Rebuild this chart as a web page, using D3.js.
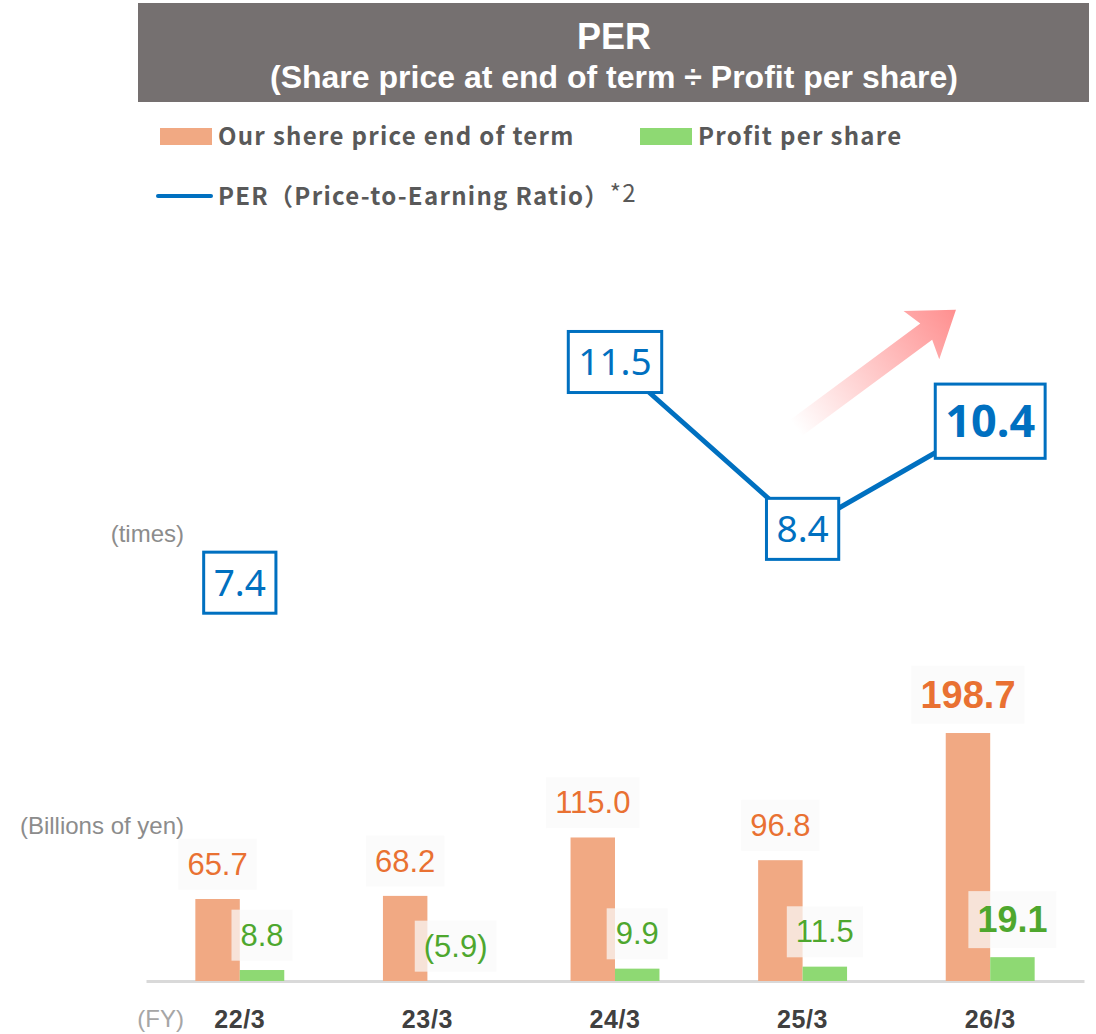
<!DOCTYPE html>
<html>
<head>
<meta charset="utf-8">
<script src="https://cdn.jsdelivr.net/npm/d3@7"></script>
<style>
  body { margin: 0; background: #fff; }
  svg { display: block; }
</style>
</head>
<body>
<div id="chart"></div>
<script>
// data
var categories = ['22/3', '23/3', '24/3', '25/3', '26/3']
var sharePrice = [65.7, 68.2, 115.0, 96.8, 198.7]
var profitPerShare = [8.8, -5.9, 9.9, 11.5, 19.1]
var perValues = [7.4, null, 11.5, 8.4, 10.4]
var legendLabels = ['Our shere price end of term', 'Profit per share', 'PER（Price-to-Earning Ratio）']

var W = 1096, H = 1034
var orange = '#F1A983', green = '#8ED973', blue = '#0070C0'
var orangeText = '#E97132', greenText = '#4EA72E'
var lastIdx = categories.length - 1

var svg = d3.select('#chart').append('svg')
  .attr('width', W).attr('height', H)

/* title */
svg.append('rect')
  .attr('x', 138).attr('y', 3).attr('width', 951).attr('height', 99)
  .attr('fill', '#757070')
svg.append('text')
  .attr('x', 614).attr('y', 49)
  .attr('text-anchor', 'middle')
  .style('font', 'bold 36px "Liberation Sans", Arial, sans-serif')
  .attr('fill', '#fff')
  .text('PER')
svg.append('text')
  .attr('x', 614).attr('y', 88)
  .attr('text-anchor', 'middle')
  .style('font', 'bold 32px "Liberation Sans", Arial, sans-serif')
  .attr('fill', '#fff')
  .text('(Share price at end of term ÷ Profit per share)')

/* legend */
var legendFont = 'bold 24px "Noto Sans CJK JP", "Noto Sans", sans-serif'
var lg = svg.append('g').style('letter-spacing', '1.3px')
lg.append('rect').attr('x', 160).attr('y', 128).attr('width', 52).attr('height', 17).attr('fill', orange)
lg.append('text').attr('x', 218).attr('y', 145).style('font', legendFont).attr('fill', '#595959').text(legendLabels[0])
lg.append('rect').attr('x', 640).attr('y', 128).attr('width', 52).attr('height', 17).attr('fill', green)
lg.append('text').attr('x', 698).attr('y', 145).style('font', legendFont).attr('fill', '#595959').text(legendLabels[1])
lg.append('line').attr('x1', 158).attr('x2', 211).attr('y1', 196).attr('y2', 196)
  .attr('stroke', blue).attr('stroke-width', 4).attr('stroke-linecap', 'round')
var lt = lg.append('text').attr('x', 218).attr('y', 205).style('font', legendFont).attr('fill', '#595959')
lt.append('tspan').text(legendLabels[2])
lt.append('tspan').attr('font-weight', 400).attr('dy', -3).text('*2')

/* scales */
var x = d3.scaleBand().domain(categories).range([146, 1084]).padding(0)
var barW = x.bandwidth() * 0.237
var yBar = d3.scaleLinear().domain([0, 200]).range([981, 731.4])
var yPer = d3.scaleLinear().domain([0, 11.5]).range([981, 362])
var cx = function(c) { return x(c) + x.bandwidth() / 2 }

/* axis */
var axis = svg.append('g')
  .attr('transform', 'translate(0,981)')
  .call(d3.axisBottom(x).tickSize(0).tickPadding(29))
axis.select('.domain').attr('stroke', '#d9d9d9').attr('stroke-width', 3)
axis.selectAll('.tick text')
  .style('font', 'bold 25px "Liberation Sans", Arial, sans-serif')
  .style('letter-spacing', '0.6px')
  .attr('fill', '#404040')

svg.append('text').attr('x', 184).attr('y', 1027).attr('text-anchor', 'end')
  .style('font', '24px "Liberation Sans", Arial, sans-serif').attr('fill', '#a6a6a6').text('(FY)')
svg.append('text').attr('x', 184).attr('y', 834).attr('text-anchor', 'end')
  .style('font', '24px "Liberation Sans", Arial, sans-serif').attr('fill', '#8c8c8c').text('(Billions of yen)')
svg.append('text').attr('x', 184).attr('y', 542).attr('text-anchor', 'end')
  .style('font', '24px "Liberation Sans", Arial, sans-serif').attr('fill', '#8c8c8c').text('(times)')

/* bars */
svg.append('g').selectAll('rect')
  .data(categories)
  .join('rect')
  .attr('x', function(d) { return cx(d) - barW })
  .attr('y', function(d, i) { return yBar(sharePrice[i]) })
  .attr('width', barW)
  .attr('height', function(d, i) { return yBar(0) - yBar(sharePrice[i]) })
  .attr('fill', orange)

svg.append('g').selectAll('rect')
  .data(categories)
  .join('rect')
  .attr('x', function(d) { return cx(d) })
  .attr('y', function(d, i) { return yBar(Math.max(0, profitPerShare[i])) })
  .attr('width', barW)
  .attr('height', function(d, i) { return yBar(0) - yBar(Math.max(0, profitPerShare[i])) })
  .attr('fill', green)

/* bar value labels with faint backgrounds */
function fmt(v) {
  return v < 0 ? '(' + Math.abs(v).toFixed(1) + ')' : v.toFixed(1)
}
function barLabel(xc, yTop, txt, color, bold, size) {
  var g = svg.append('g')
  var bg = g.append('rect')
  var t = g.append('text')
    .attr('x', xc)
    .attr('y', yTop - size * 0.5 - 20)
    .attr('dy', '0.36em')
    .attr('text-anchor', 'middle')
    .style('font', (bold ? 'bold ' : '') + size + 'px "Liberation Sans", Arial, sans-serif')
    .attr('fill', color)
    .text(txt)
  var b = t.node().getBBox()
  bg.attr('x', b.x - 9).attr('y', b.y - 8)
    .attr('width', b.width + 18).attr('height', b.height + 16)
    .attr('fill', '#fafafa').attr('opacity', 0.72)
}
categories.forEach(function(c, i) {
  var big = i === lastIdx
  barLabel(cx(c) - barW / 2, yBar(sharePrice[i]), fmt(sharePrice[i]), orangeText, big, big ? 38 : 31)
  barLabel(cx(c) + barW / 2 + (profitPerShare[i] < 0 ? 6 : 0), yBar(Math.max(0, profitPerShare[i])), fmt(profitPerShare[i]), greenText, big, big ? 36 : 31)
})

/* growth arrow */
var defs = svg.append('defs')
var grad = defs.append('linearGradient').attr('id', 'arrowGrad')
  .attr('x1', '0%').attr('x2', '100%').attr('y1', '0%').attr('y2', '0%')
grad.append('stop').attr('offset', '0%').attr('stop-color', '#ff8f8f').attr('stop-opacity', 0)
grad.append('stop').attr('offset', '100%').attr('stop-color', '#ff8f8f').attr('stop-opacity', 1)
svg.append('path')
  .attr('transform', 'translate(796,428) rotate(-36.5)')
  .attr('d', 'M0,-10 L162,-10 L156,-30 L199,0 L156,30 L162,10 L0,10 Z')
  .attr('fill', 'url(#arrowGrad)')

/* PER line */
var perPts = categories.map(function(c, i) { return { c: c, v: perValues[i], i: i } })
var line = d3.line()
  .defined(function(d) { return d.v != null })
  .x(function(d) { return cx(d.c) })
  .y(function(d) { return yPer(d.v) })
svg.append('path')
  .datum(perPts.slice(2))
  .attr('d', line)
  .attr('fill', 'none')
  .attr('stroke', blue)
  .attr('stroke-width', 5)

/* PER boxes */
perPts.filter(function(d) { return d.v != null }).forEach(function(d) {
  var big = d.i === lastIdx
  var size = big ? 45 : 37
  var g = svg.append('g')
  var box = g.append('rect')
  var t = g.append('text')
    .attr('x', cx(d.c)).attr('y', yPer(d.v))
    .attr('dy', '0.36em')
    .attr('text-anchor', 'middle')
    .style('font', (big ? 'bold ' : '') + size + 'px "Noto Sans", sans-serif')
    .attr('fill', blue)
    .text(d.v.toFixed(1))
  var w = t.node().getComputedTextLength() + 20
  var h = size * 1.65
  box.attr('x', cx(d.c) - w / 2).attr('y', yPer(d.v) - h / 2)
    .attr('width', w).attr('height', h)
    .attr('fill', '#fff').attr('stroke', blue).attr('stroke-width', 3)
})
</script>
</body>
</html>
